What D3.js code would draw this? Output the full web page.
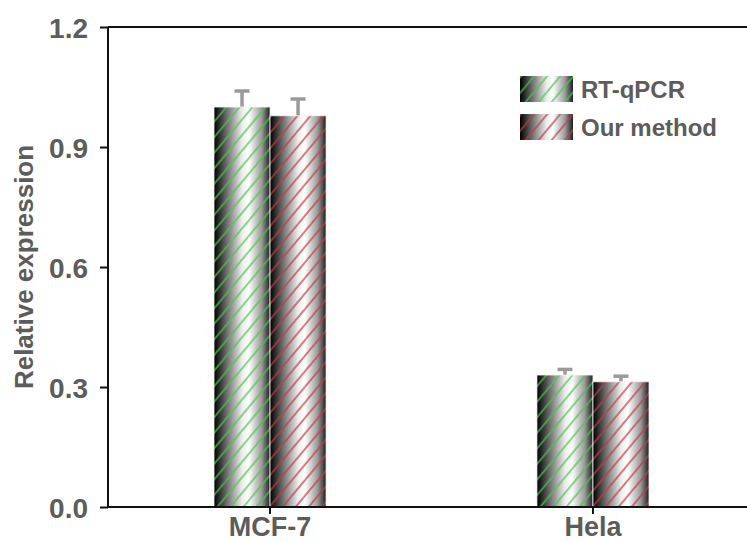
<!DOCTYPE html>
<html>
<head>
<meta charset="utf-8">
<script src="https://cdn.jsdelivr.net/npm/d3@7"></script>
<style>
  body { margin: 0; background: #fff; }
  text { font-family: "Liberation Sans", Arial, sans-serif; font-weight: bold; }
</style>
</head>
<body>
<svg id="chart" width="747" height="542"></svg>
<script>
// data
var categories = ['MCF-7', 'Hela'];
var seriesNames = ['RT-qPCR', 'Our method'];
var rtValues = [1.0, 0.33];
var rtErrors = [0.04, 0.014];
var ourValues = [0.978, 0.313];
var ourErrors = [0.042, 0.014];
var yTicks = [0.0, 0.3, 0.6, 0.9, 1.2];

var svg = d3.select('#chart');
var margin = { left: 108, top: 27, right: 0, bottom: 35 };
var width = 747 - margin.left - margin.right;
var height = 542 - margin.top - margin.bottom;

var hatchColors = ['#46c846', '#c23a40'];
var series = [
    { name: seriesNames[0], values: rtValues, errors: rtErrors },
    { name: seriesNames[1], values: ourValues, errors: ourErrors }
];

/* defs: gradient + hatch patterns */
var defs = svg.append('defs');
var grad = defs.append('linearGradient')
    .attr('id', 'shade')
    .attr('x1', '0%').attr('x2', '100%')
    .attr('y1', '0%').attr('y2', '0%');
grad.append('stop').attr('offset', '0%').attr('stop-color', '#000');
grad.append('stop').attr('offset', '22%').attr('stop-color', '#6a6a6a');
grad.append('stop').attr('offset', '50%').attr('stop-color', '#ececec');
grad.append('stop').attr('offset', '62%').attr('stop-color', '#ffffff');
grad.append('stop').attr('offset', '85%').attr('stop-color', '#9a9a9a');
grad.append('stop').attr('offset', '100%').attr('stop-color', '#1e1e1e');

hatchColors.forEach(function (c, i) {
    var p = defs.append('pattern')
        .attr('id', 'hatch' + i)
        .attr('patternUnits', 'userSpaceOnUse')
        .attr('width', 10).attr('height', 10)
        .attr('patternTransform', 'rotate(40)');
    p.append('line')
        .attr('x1', 1).attr('y1', 0)
        .attr('x2', 1).attr('y2', 10)
        .attr('stroke', c)
        .attr('stroke-width', 1.3);
});

var g = svg.append('g')
    .attr('transform', 'translate(' + margin.left + ',' + margin.top + ')');

var y = d3.scaleLinear().domain([0, 1.2]).range([height, 0]);
var x0 = d3.scaleBand().domain(categories).range([106, 541]).paddingInner(0.653).paddingOuter(0);
var x1 = d3.scaleBand().domain(seriesNames).range([0, x0.bandwidth()]);

// bars
var groups = g.selectAll('g.cat')
    .data(categories)
    .enter()
    .append('g')
    .attr('class', 'cat')
    .attr('transform', function (d) { return 'translate(' + x0(d) + ',0)'; });

series.forEach(function (s, si) {
    groups.each(function (cat, ci) {
        var gg = d3.select(this);
        var bx = x1(s.name), bw = x1.bandwidth();
        var by = y(s.values[ci]), bh = height - y(s.values[ci]);
        // error bar (upper only)
        var ey = y(s.values[ci] + s.errors[ci]);
        gg.append('line')
            .attr('x1', bx + bw / 2).attr('x2', bx + bw / 2)
            .attr('y1', by).attr('y2', ey)
            .attr('stroke', '#9a9a9a').attr('stroke-width', 3.5);
        gg.append('line')
            .attr('x1', bx + bw / 2 - 7.5).attr('x2', bx + bw / 2 + 7.5)
            .attr('y1', ey).attr('y2', ey)
            .attr('stroke', '#9a9a9a').attr('stroke-width', 3.5);
        gg.append('rect')
            .attr('x', bx).attr('y', by)
            .attr('width', bw).attr('height', bh)
            .attr('fill', 'url(#shade)');
        gg.append('rect')
            .attr('x', bx).attr('y', by)
            .attr('width', bw).attr('height', bh)
            .attr('fill', 'url(#hatch' + si + ')')
            .attr('stroke', '#f4f4f4').attr('stroke-width', 0.8);
    });
});

// axes
var yAxis = g.append('g')
    .call(d3.axisLeft(y).tickValues(yTicks).tickSize(8).tickFormat(d3.format('.1f')));
var xAxis = g.append('g')
    .attr('transform', 'translate(0,' + height + ')')
    .call(d3.axisBottom(x0).tickSize(7));

[yAxis, xAxis].forEach(function (a) {
    a.select('.domain').attr('stroke', '#111').attr('stroke-width', 2);
    a.selectAll('.tick line').attr('stroke', '#111').attr('stroke-width', 2);
    a.selectAll('.tick text')
        .attr('fill', '#5c5c5c')
        .style('font-size', '28px')
        .style('font-weight', 'bold');
});
yAxis.selectAll('.tick text').attr('x', -20).attr('dy', '0.36em');
xAxis.selectAll('.tick text').attr('y', 29).attr('dy', 0).style('font-size', '27px');
// straight domain lines without outer ticks
yAxis.select('.domain').attr('d', 'M0,' + height + 'V0');
xAxis.select('.domain').attr('d', 'M0,0H' + width);

// top frame line
g.append('line')
    .attr('x1', 0).attr('x2', width)
    .attr('y1', 0).attr('y2', 0)
    .attr('stroke', '#111').attr('stroke-width', 2);

// axis title
svg.append('text')
    .attr('transform', 'translate(33,' + (margin.top + height / 2) + ') rotate(-90)')
    .attr('text-anchor', 'middle')
    .attr('fill', '#5c5c5c')
    .style('font-size', '26px')
    .text('Relative expression');

// legend
var legend = svg.append('g').attr('transform', 'translate(520,76)');
series.forEach(function (s, i) {
    var lg = legend.append('g').attr('transform', 'translate(0,' + (i * 38) + ')');
    lg.append('rect').attr('width', 53).attr('height', 26).attr('fill', 'url(#shade)');
    lg.append('rect').attr('width', 53).attr('height', 26).attr('fill', 'url(#hatch' + i + ')');
    lg.append('text')
        .attr('x', 61).attr('y', 22)
        .attr('fill', '#5c5c5c')
        .style('font-size', '24px')
        .text(s.name);
});
</script>
</body>
</html>
